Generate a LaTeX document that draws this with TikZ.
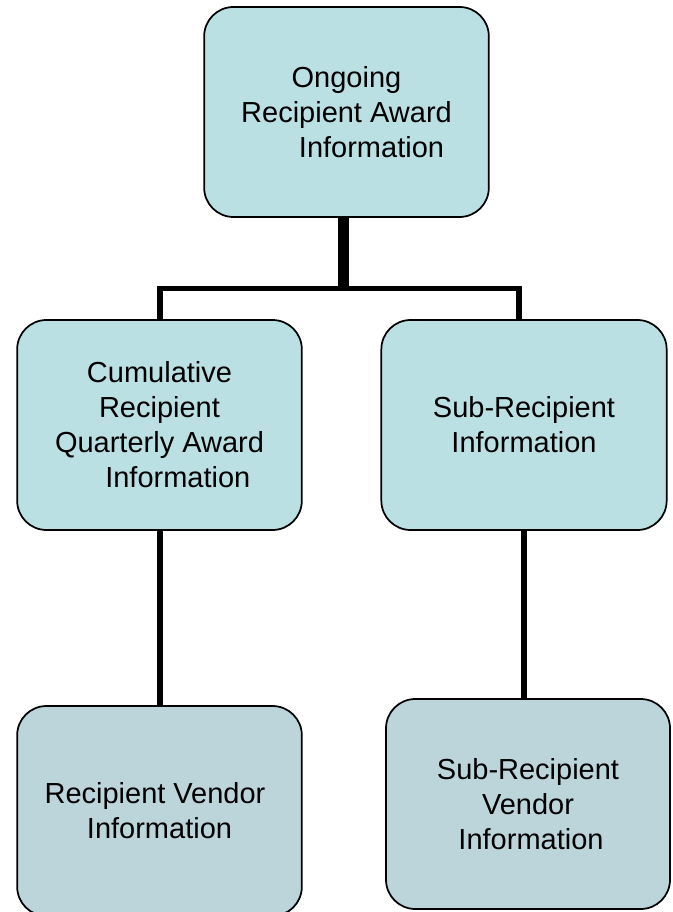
\documentclass[tikz,border=0pt]{standalone}
\usepackage{fontspec}
\setmainfont{Liberation Sans}
\definecolor{boxcyan}{HTML}{BBE0E3}
\definecolor{boxgrey}{HTML}{BCD5DB}
\begin{document}
\begin{tikzpicture}[x=0.75pt,y=-0.75pt,
  box/.style={draw=black, line width=1.3pt, rounded corners=22pt,
    minimum width=213.5pt, minimum height=157.5pt, inner sep=0pt,
    align=center, font=\fontsize{21.75}{26.25}\selectfont},
  topbox/.style={box, fill=boxcyan},
  lowbox/.style={box, fill=boxgrey},
  conn/.style={draw=black, line width=4.2pt, line join=miter},
  stem/.style={draw=black, line width=7.8pt}]
\path[use as bounding box, clip] (0,0) rectangle (673,912);
\fill[white] (0,0) rectangle (673,912);

\node[topbox] (top) at (346.5,112) {Ongoing\\Recipient Award\\\hspace*{37.5pt}Information};
\node[topbox] (midL) at (159.5,425) {Cumulative\\Recipient\\Quarterly Award\\\hspace*{27.5pt}Information};
\node[topbox, minimum width=214pt] (midR) at (524,425) {Sub-Recipient\\Information};
\node[lowbox] (botL) at (159.5,811) {Recipient Vendor\hspace*{6.75pt}\\Information};
\node[lowbox, minimum width=213pt] (botR) at (528,804) {Sub-Recipient\\Vendor\\\hspace*{4.5pt}Information};

\coordinate (jc) at (343.5,288.5);
\coordinate (jl) at (160,288.5);
\coordinate (jr) at (519,288.5);
\coordinate (lr) at (524,0);

\draw[conn] (midL.north -| jl) -- (jl) -- (jr) -- (midR.north -| jr);
\draw[stem] (top.south -| jc) -- ([yshift=-2pt]jc);
\draw[conn] (midL.south -| jl) -- (botL.north -| jl);
\draw[conn] (midR.south -| lr) -- (botR.north -| lr);
\end{tikzpicture}
\end{document}
